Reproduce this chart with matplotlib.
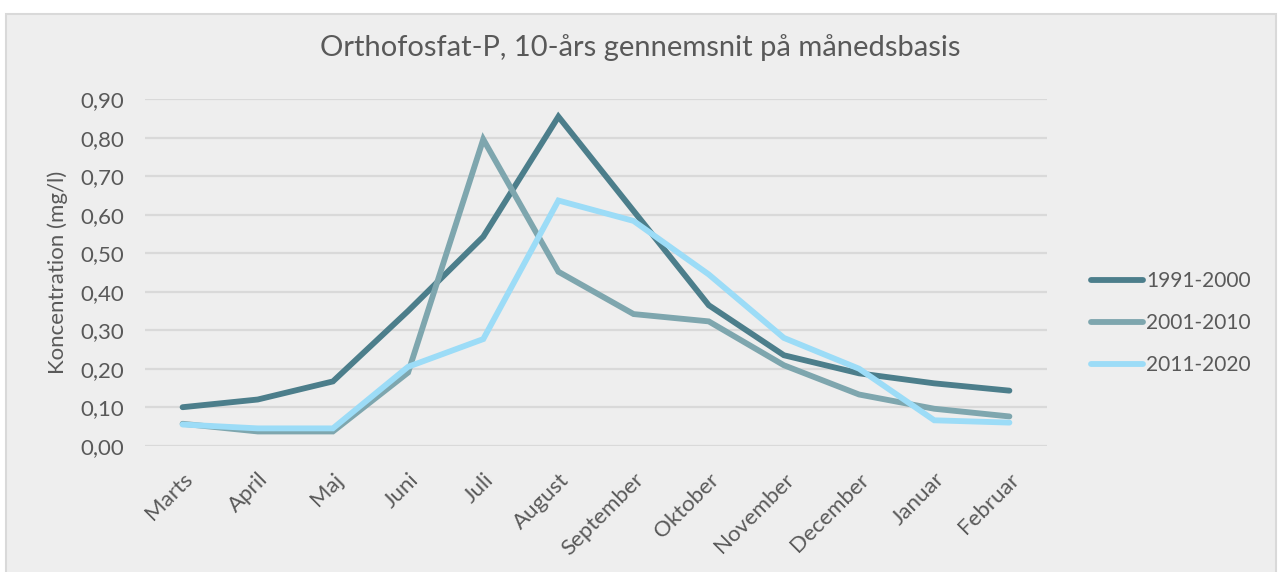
import matplotlib.pyplot as plt
from matplotlib.patches import Rectangle
from matplotlib.ticker import FuncFormatter

# Monthly means of orthophosphate-P, hydrological year March-February
months = ["Marts", "April", "Maj", "Juni", "Juli", "August", "September",
          "Oktober", "November", "December", "Januar", "Februar"]
p_1991_2000 = [0.10, 0.12, 0.167, 0.35, 0.543, 0.855, 0.61, 0.365, 0.235, 0.188, 0.162, 0.143]
p_2001_2010 = [0.057, 0.037, 0.037, 0.19, 0.796, 0.452, 0.342, 0.323, 0.209, 0.133, 0.096, 0.076]
p_2011_2020 = [0.055, 0.045, 0.045, 0.205, 0.277, 0.637, 0.584, 0.445, 0.28, 0.20, 0.066, 0.06]
series_labels = ["1991-2000", "2001-2010", "2011-2020"]
series_colors = ["#4C7E8B", "#7EA6AE", "#9CDCF7"]
yticks = [0.0, 0.1, 0.2, 0.3, 0.4, 0.5, 0.6, 0.7, 0.8, 0.9]

plt.rcParams['font.family'] = ['Lato', 'DejaVu Sans']
text_color = "#595959"

W, H = 1280, 572
fig = plt.figure(figsize=(W / 100, H / 100), dpi=100, facecolor="white")

# chart area background with thin border
fig.patches.append(Rectangle((6 / W, -0.05), (1276 - 6) / W, (H - 14) / H + 0.05,
                             transform=fig.transFigure, facecolor="#EEEEEE",
                             edgecolor="#D9D9D9", linewidth=1.5, zorder=-1))

ax = fig.add_axes([145 / W, 1 - 445.7 / H, (1047 - 145) / W, (445.7 - 99.3) / H])
ax.set_zorder(1)
ax.set_facecolor("none")

x = list(range(len(months)))
for vals, lab, col in zip([p_1991_2000, p_2001_2010, p_2011_2020], series_labels, series_colors):
    ax.plot(x, vals, color=col, lw=4.2, label=lab, solid_capstyle="round",
            solid_joinstyle="miter", zorder=3)

ax.set_xlim(-0.5, len(months) - 0.5)
ax.set_ylim(0, 0.9)
ax.set_yticks(yticks)
ax.yaxis.set_major_formatter(FuncFormatter(lambda v, p: f"{v:.2f}".replace(".", ",")))
ax.grid(axis="y", color="#D9D9D9", lw=1.6, zorder=1)
ax.set_axisbelow(True)
for s in ax.spines.values():
    s.set_visible(False)

ax.set_xticks(x)
ax.set_xticklabels(months, rotation=45, ha="right", va="top", rotation_mode="anchor")
ax.tick_params(axis="x", length=0, pad=17, labelsize=16, labelcolor=text_color)
ax.tick_params(axis="y", length=0, pad=15, labelsize=16, labelcolor=text_color)

ax.set_ylabel("Koncentration (mg/l)", fontsize=16, color=text_color, labelpad=9)
fig.text(640 / W, 1 - 48 / H, "Orthofosfat-P, 10-års gennemsnit på månedsbasis",
         ha="center", va="center", fontsize=21, color=text_color)

leg = ax.legend(loc="center left", bbox_to_anchor=(1072 / W, 1 - 323 / H),
                bbox_transform=fig.transFigure, frameon=False, fontsize=15,
                handlelength=2.5, handletextpad=0.15, labelspacing=1.05)
for t in leg.get_texts():
    t.set_color(text_color)

fig.savefig("out.png", dpi=100, facecolor="white")
